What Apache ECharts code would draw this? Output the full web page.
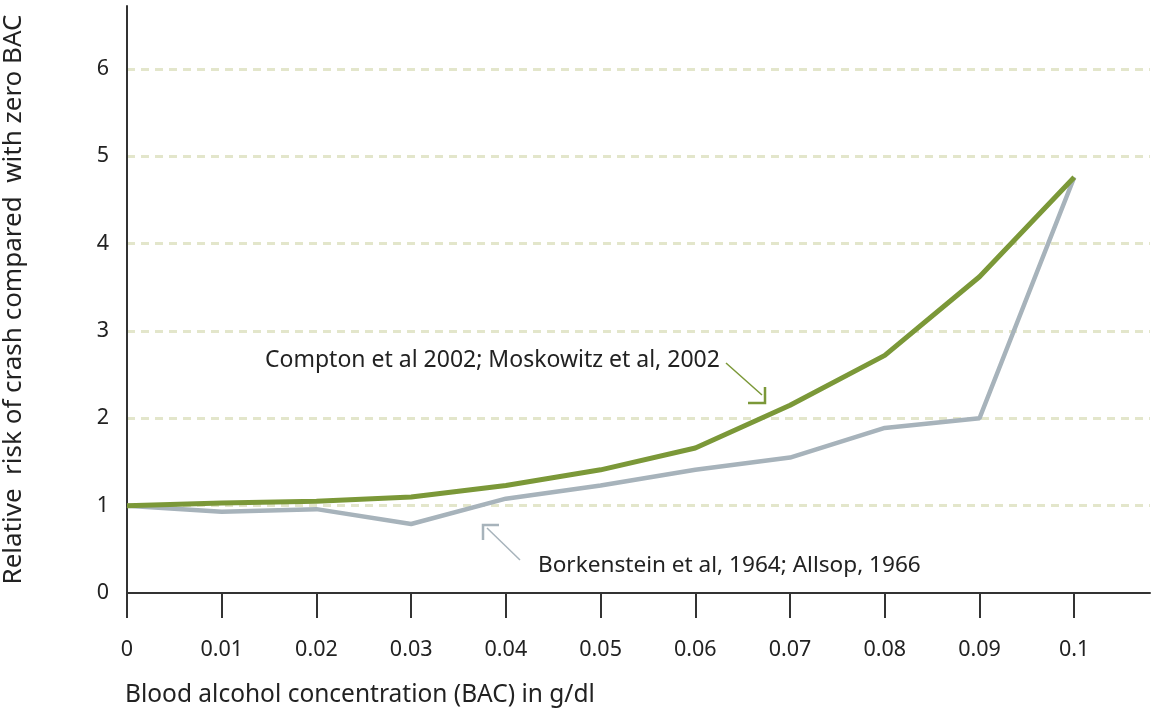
<!DOCTYPE html>
<html>
<head>
<meta charset="utf-8">
<title>Relative risk of crash vs BAC</title>
<script src="https://cdn.jsdelivr.net/npm/echarts@6/dist/echarts.min.js"></script>
<style>
  html, body { margin: 0; padding: 0; background: #fff; }
  #chart { width: 1152px; height: 708px; }
</style>
</head>
<body>
<div id="chart"></div>
<script>
// datos
var bac = [0, 0.01, 0.02, 0.03, 0.04, 0.05, 0.06, 0.07, 0.08, 0.09, 0.1];
var compton = [1.0, 1.03, 1.05, 1.10, 1.23, 1.41, 1.66, 2.15, 2.72, 3.62, 4.76];
var borkenstein = [1.0, 0.93, 0.96, 0.79, 1.08, 1.23, 1.41, 1.55, 1.89, 2.0, 4.76];
var xTicks = [0, 0.01, 0.02, 0.03, 0.04, 0.05, 0.06, 0.07, 0.08, 0.09, 0.1];
var yTicks = [0, 1, 2, 3, 4, 5, 6];

var labelCompton = 'Compton et al 2002; Moskowitz et al, 2002';
var labelBorken = 'Borkenstein et al, 1964; Allsop, 1966';

var green = '#7b9838';
var grey = '#a7b3bb';
var font = '"Noto Sans", "Open Sans", sans-serif';

function pares(xs, ys) {
  var out = [];
  for (var i = 0; i < xs.length; i++) {
    out.push([xs[i], ys[i]]);
  }
  return out;
}

var chart = echarts.init(document.getElementById('chart'));

chart.setOption({
  animation: false,
  textStyle: { fontFamily: font, color: '#222' },
  grid: { left: 127, right: 2, top: 6, bottom: 115, containLabel: false, outerBoundsMode: 'none' },
  xAxis: {
    type: 'value',
    min: 0,
    max: 0.108,
    axisLine: { lineStyle: { color: '#333', width: 2 } },
    axisTick: { show: true, length: 25, customValues: xTicks, lineStyle: { color: '#333', width: 2 } },
    axisLabel: { customValues: xTicks, margin: 46, fontSize: 21.5, color: '#222', fontFamily: font },
    splitLine: { show: false }
  },
  yAxis: {
    type: 'value',
    min: 0,
    max: 6.72,
    interval: 1,
    name: 'Relative  risk of crash compared  with zero BAC',
    nameLocation: 'middle',
    nameGap: 100,
    nameTextStyle: { fontSize: 26, color: '#222', fontFamily: font },
    axisLine: { show: true, lineStyle: { color: '#333', width: 2 } },
    axisTick: { show: false },
    axisLabel: {
      showMaxLabel: false,
      margin: 18,
      fontSize: 21.5,
      color: '#222',
      fontFamily: font,
      padding: [0, 0, 14, 0],
      formatter: function (v) {
        return yTicks.indexOf(v) >= 0 ? String(v) : '';
      }
    },
    splitLine: {
      show: true,
      showMinLine: false,
      showMaxLine: false,
      lineStyle: { color: '#e3e6cb', width: 3, type: [8, 6] }
    }
  },
  series: [
    {
      name: 'Borkenstein',
      type: 'line',
      data: pares(bac, borkenstein),
      symbol: 'none',
      lineStyle: { color: grey, width: 4.5 },
      z: 2
    },
    {
      name: 'Compton',
      type: 'line',
      data: pares(bac, compton),
      symbol: 'none',
      lineStyle: { color: green, width: 5 },
      z: 3
    }
  ],
  graphic: [
    {
      type: 'text', x: 125, y: 695,
      style: { text: 'Blood alcohol concentration (BAC) in g/dl', font: '24.5px ' + font, fill: '#222', verticalAlign: 'middle' }
    },
    {
      type: 'text', x: 265, y: 360,
      style: { text: labelCompton, font: '23px ' + font, fill: '#222', verticalAlign: 'middle' }
    },
    {
      type: 'line',
      shape: { x1: 726, y1: 363, x2: 762, y2: 395 },
      style: { stroke: green, lineWidth: 1.5 }
    },
    {
      type: 'polyline',
      shape: { points: [[765, 387], [765, 403], [748, 403]] },
      style: { stroke: green, lineWidth: 2.5, fill: null }
    },
    {
      type: 'text', x: 538, y: 566,
      style: { text: labelBorken, font: '22.6px ' + font, fill: '#222', verticalAlign: 'middle' }
    },
    {
      type: 'line',
      shape: { x1: 520, y1: 560, x2: 487, y2: 528 },
      style: { stroke: grey, lineWidth: 1.5 }
    },
    {
      type: 'polyline',
      shape: { points: [[483, 540], [483, 525], [499, 525]] },
      style: { stroke: grey, lineWidth: 2.5, fill: null }
    }
  ]
});
</script>
</body>
</html>
